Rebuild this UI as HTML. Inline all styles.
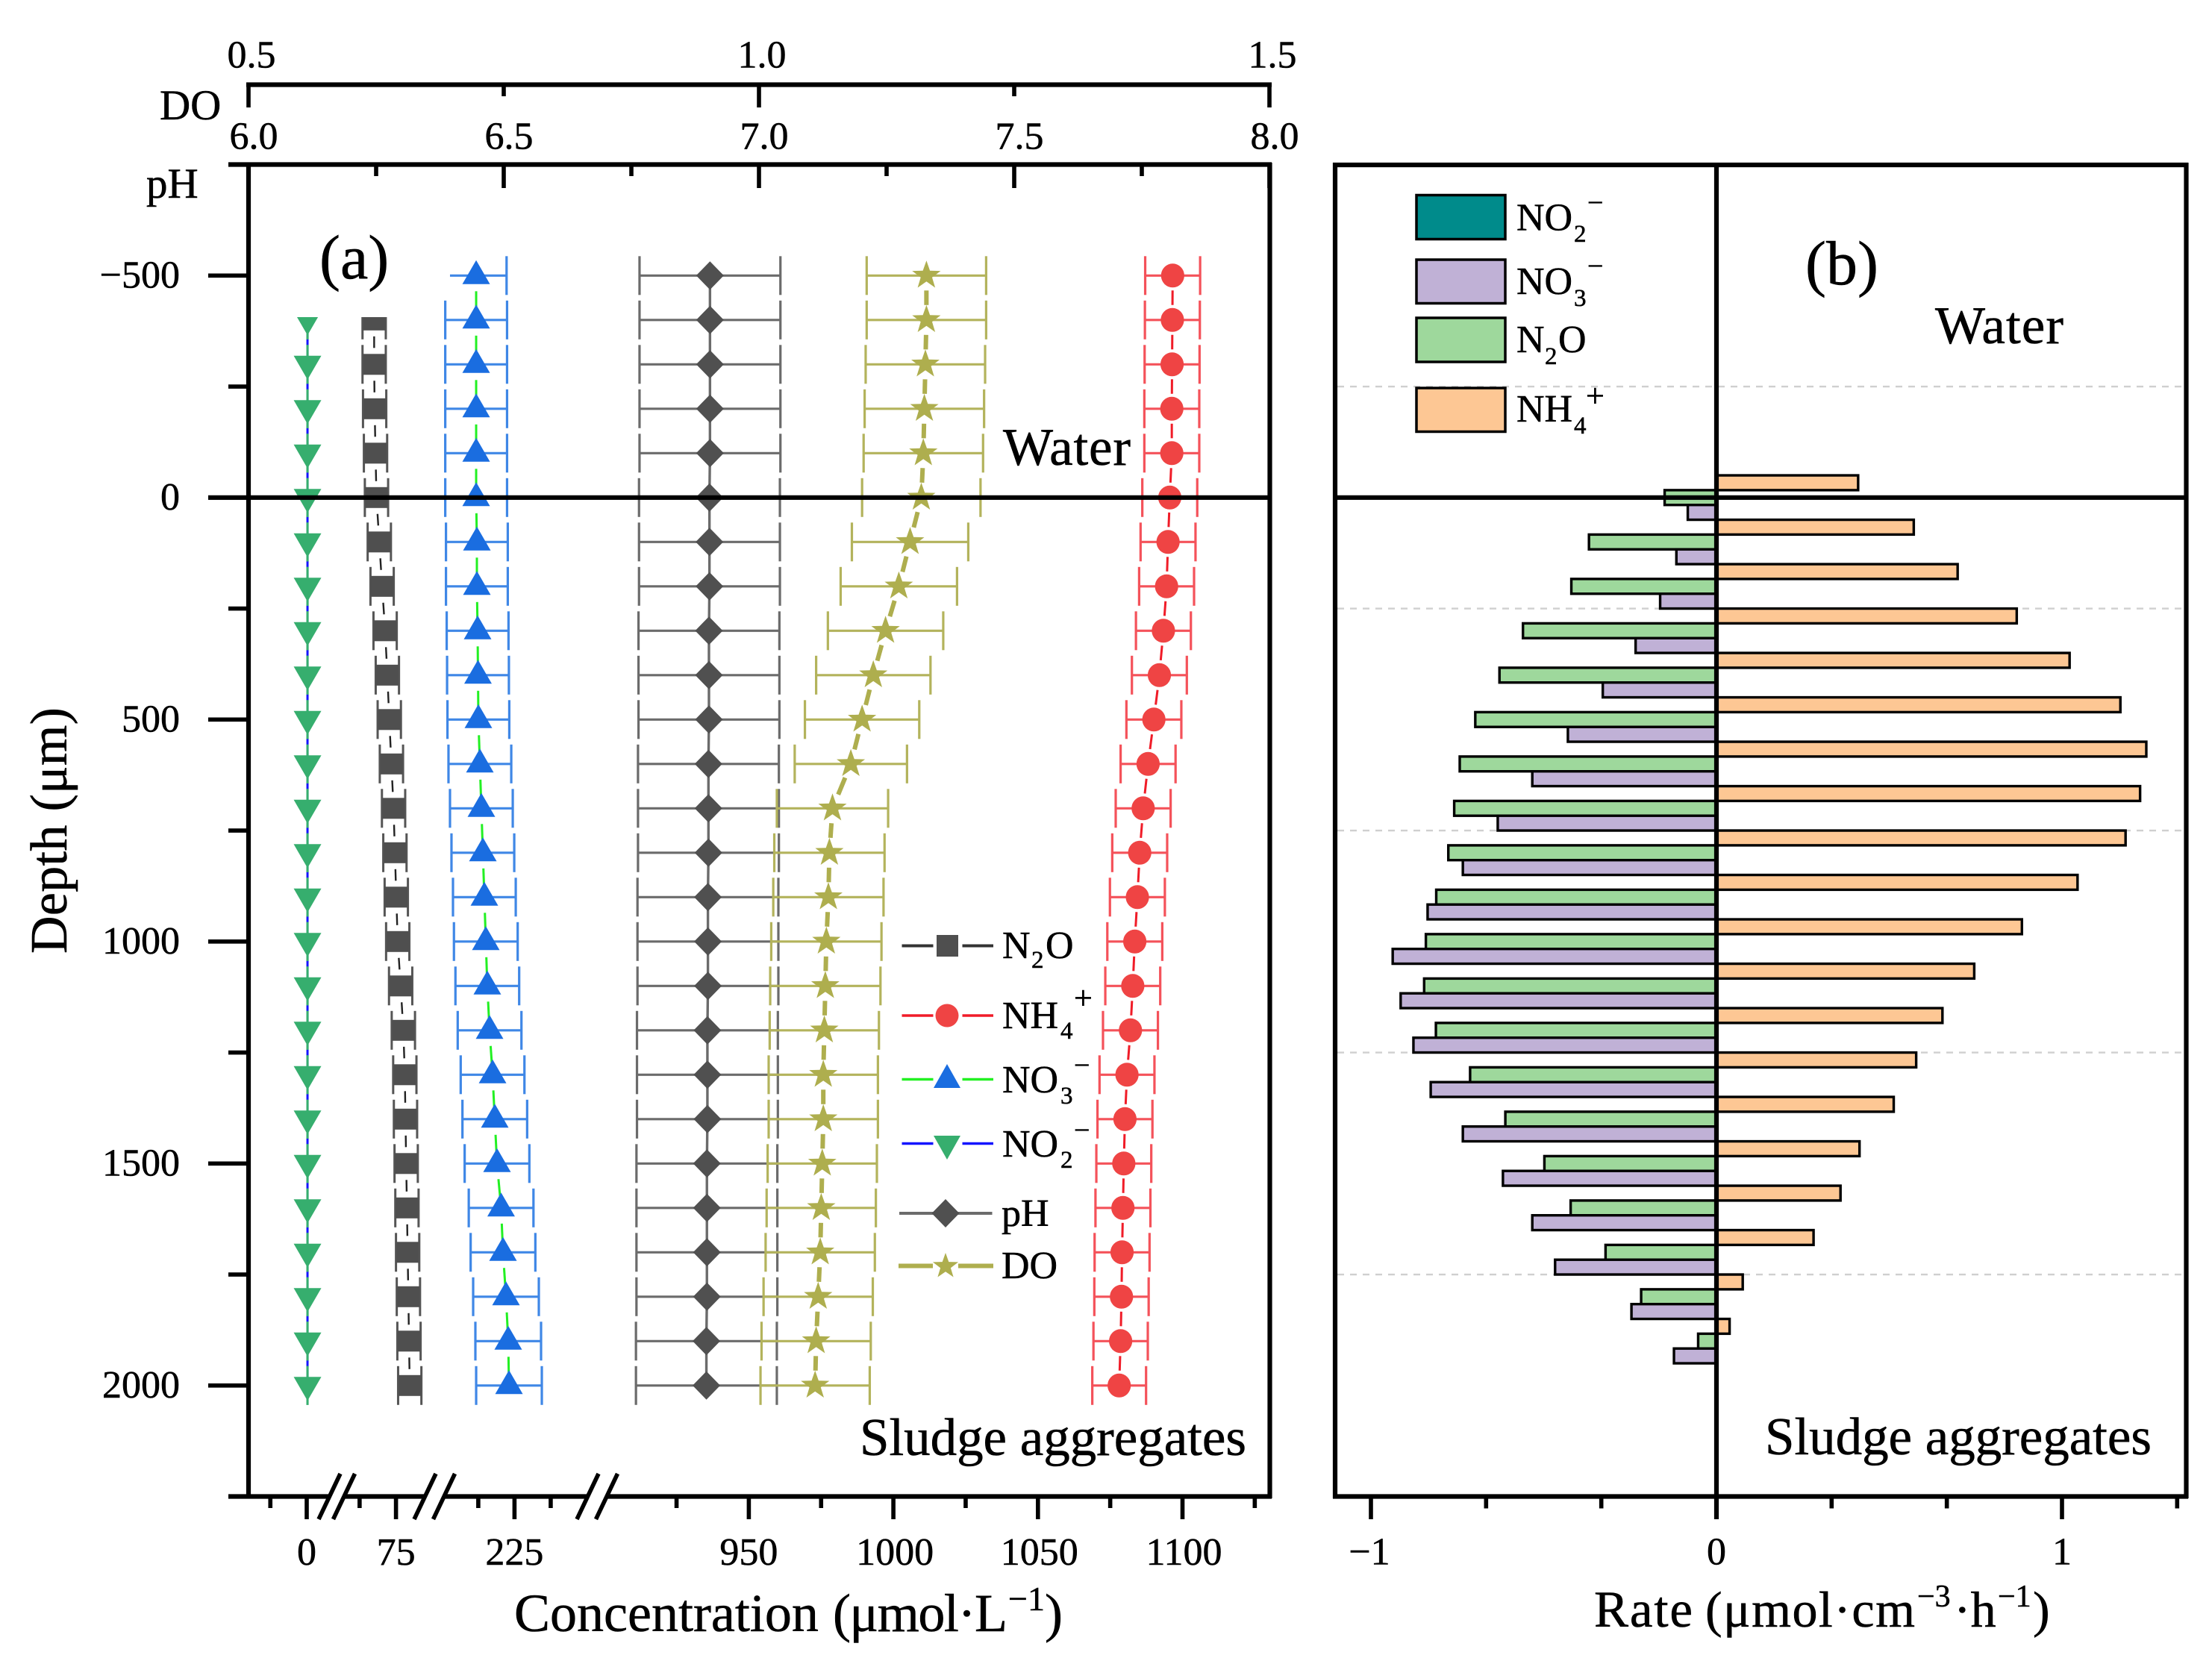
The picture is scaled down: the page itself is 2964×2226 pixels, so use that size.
<!DOCTYPE html>
<html lang="en">
<head>
<meta charset="utf-8">
<title>Depth profiles and rates</title>
<style>
html,body{margin:0;padding:0;background:#fff;}
svg{display:block;}
text{font-family:"Liberation Serif","DejaVu Serif",serif;fill:#000;stroke:#000;stroke-width:0.55px;}
</style>
</head>
<body>
<svg id="chart" xmlns="http://www.w3.org/2000/svg" width="2964" height="2226" viewBox="0 0 2964 2226">
<defs>
<clipPath id="topClip"><rect x="300" y="425" width="400" height="1600"/></clipPath>
</defs>
<rect x="0" y="0" width="2964" height="2226" fill="#fff"/>
<g id="panelB"></g>
<g id="panelA"></g>
<g id="axes"></g>

<text x="214" y="160" font-size="57">DO</text>
<text x="196" y="265" font-size="57">pH</text>
<text x="428" y="373" font-size="84">(a)</text>
<text x="1344" y="623" font-size="71" textLength="171">Water</text>
<text x="1152" y="1950" font-size="71" textLength="518">Sludge aggregates</text>
<text transform="translate(89,1278) rotate(-90)" font-size="70" textLength="330">Depth (μm)</text>

<text x="689" y="2186" font-size="72">Concentration</text>
<text x="1116" y="2186" font-size="72" textLength="234">(μmol·L</text>
<text x="1351" y="2158" font-size="46">−1</text>
<text x="1400" y="2186" font-size="72">)</text>

<text x="2419" y="381" font-size="84">(b)</text>
<text x="2593" y="460" font-size="71" textLength="172">Water</text>
<text x="2365" y="1949" font-size="71" textLength="518">Sludge aggregates</text>
<text x="2136" y="2180" font-size="69" textLength="132">Rate</text>
<text x="2285" y="2180" font-size="68" textLength="281">(μmol·cm</text>
<text x="2569" y="2153" font-size="42">−3</text>
<text x="2618" y="2180" font-size="68">·h</text>
<text x="2677" y="2153" font-size="42">−1</text>
<text x="2724" y="2180" font-size="68">)</text>

<g>
  <g>
    <rect x="1898" y="261.5" width="119" height="59" fill="#008b8b" stroke="#000" stroke-width="3.5"/>
    <text x="2032" y="308.5" font-size="52">NO</text>
    <text x="2109" y="324" font-size="33">2</text>
    <text x="2127" y="284" font-size="38">−</text>
  </g>
  <g>
    <rect x="1898" y="348" width="119" height="58.5" fill="#c0b1d6" stroke="#000" stroke-width="3.5"/>
    <text x="2032" y="394" font-size="52">NO</text>
    <text x="2109" y="410" font-size="33">3</text>
    <text x="2127" y="369" font-size="38">−</text>
  </g>
  <g>
    <rect x="1898" y="426" width="119" height="59" fill="#9ed89c" stroke="#000" stroke-width="3.5"/>
    <text x="2032" y="472" font-size="52">N</text>
    <text x="2070" y="488" font-size="33">2</text>
    <text x="2088" y="472" font-size="52">O</text>
  </g>
  <g>
    <rect x="1898" y="520" width="119" height="58.5" fill="#fdc794" stroke="#000" stroke-width="3.5"/>
    <text x="2032" y="565" font-size="52">NH</text>
    <text x="2109" y="581" font-size="33">4</text>
    <text x="2125" y="545" font-size="44">+</text>
  </g>
</g>

<g>
  <g>
    <path d="M1208.5 1267.5H1250.5M1289.5 1267.5H1331" stroke="#333" stroke-width="4" fill="none"/>
    <rect x="1255" y="1253" width="29" height="29" fill="#4f4f4f"/>
    <text x="1343" y="1284" font-size="52">N</text>
    <text x="1382" y="1297" font-size="33">2</text>
    <text x="1401" y="1284" font-size="52">O</text>
  </g>
  <g>
    <path d="M1208.5 1361H1250.5M1289.5 1361H1331" stroke="#f01c28" stroke-width="3.5" fill="none"/>
    <ellipse cx="1269" cy="1361" rx="15.5" ry="15.5" fill="#ef4444"/>
    <text x="1343" y="1378" font-size="52">NH</text>
    <text x="1421" y="1392" font-size="33">4</text>
    <text x="1439" y="1352" font-size="44">+</text>
  </g>
  <g>
    <path d="M1208.5 1446.5H1250.5M1289.5 1446.5H1331" stroke="#22f022" stroke-width="3.5" fill="none"/>
    <polygon points="1269,1426 1287,1458 1251,1458" fill="#1a6de0"/>
    <text x="1343" y="1464" font-size="52">NO</text>
    <text x="1421" y="1479" font-size="33">3</text>
    <text x="1439" y="1440" font-size="38">−</text>
  </g>
  <g>
    <path d="M1208.5 1532.5H1250.5M1289.5 1532.5H1331" stroke="#1414ff" stroke-width="3.5" fill="none"/>
    <polygon points="1269,1554 1287,1522 1251,1522" fill="#36ae6e"/>
    <text x="1343" y="1550" font-size="52">NO</text>
    <text x="1421" y="1565" font-size="33">2</text>
    <text x="1439" y="1527" font-size="38">−</text>
  </g>
  <g>
    <path d="M1205 1626H1329.5" stroke="#6b6b6b" stroke-width="4" fill="none"/>
    <polygon points="1267,1607 1285.5,1626 1267,1645 1248.5,1626" fill="#505050"/>
    <text x="1342" y="1643" font-size="52">pH</text>
  </g>
  <g>
    <path d="M1204 1696.5H1250M1284 1696.5H1331" stroke="#aeae4e" stroke-width="6" fill="none"/>
    <polygon points="1267,1679 1271.3,1691.1 1284.1,1691.4 1273.9,1699.2 1277.6,1711.5 1267,1704.2 1256.4,1711.5 1260.1,1699.2 1249.9,1691.4 1262.7,1691.1" fill="#aeae4e"/>
    <text x="1342" y="1713" font-size="52">DO</text>
  </g>
</g>

<script>
// ---------- Panel (a) data ----------
const depthsFull = [-500,-400,-300,-200,-100,0,100,200,300,400,500,600,700,800,900,1000,1100,1200,1300,1400,1500,1600,1700,1800,1900,2000];
const depthsClipped = [-400,-300,-200,-100,0,100,200,300,400,500,600,700,800,900,1000,1100,1200,1300,1400,1500,1600,1700,1800,1900,2000];
const no2Values = [0.8,0.8,0.8,0.8,0.8,0.8,0.8,0.8,0.8,0.8,0.8,0.8,0.8,0.8,0.8,0.8,0.8,0.8,0.8,0.8,0.8,0.8,0.8,0.8,0.8];
const n2oValues = [52.5,52.5,53,53.9,54.9,57.8,60.7,63.8,66.1,68.1,70.3,72.5,73.9,75.3,76.8,79.8,82.6,84.1,84.8,85.5,86.3,87.0,87.8,88.4,89.2];
const n2oErrors = [12,12,12,12,12,12,12,12,12,12,12,12,12,12,12,12,12,12,12,12,12,12,12,12,12];
const no3Values = [145.6,145.6,145.6,145.6,145.6,145.6,147.1,147.1,148.6,149.4,150.2,153.3,156.4,159.5,162.6,165.6,168.7,173.4,179.6,184.2,188.8,197.3,201.2,207.4,212.0,213.6];
const no3Errors = [63,64,64,64,64,64,64,64,64,64,64,65,65,65,65,66,66,66,66,67,67,67,67,68,68,68];
const nh4Values = [1096.6,1096.5,1096.4,1096.3,1096.3,1095.6,1095.0,1094.5,1093.4,1092.0,1090.1,1088.1,1086.4,1085.2,1084.4,1083.5,1082.8,1082.0,1080.8,1080.1,1079.7,1079.4,1079.1,1078.9,1078.6,1078.1];
const nh4Errors = [9.5,9.5,9.5,9.5,9.5,9.5,9.5,9.5,9.5,9.5,9.5,9.5,9.5,9.5,9.5,9.5,9.5,9.5,9.5,9.5,9.5,9.5,9.5,9.4,9.4,9.3];
const phValues = [6.904,6.904,6.904,6.904,6.904,6.903,6.903,6.903,6.902,6.902,6.902,6.901,6.901,6.901,6.900,6.900,6.900,6.899,6.899,6.899,6.898,6.898,6.898,6.898,6.897,6.897];
const phErrors = [0.138,0.138,0.138,0.138,0.138,0.138,0.138,0.138,0.138,0.138,0.138,0.138,0.138,0.138,0.138,0.138,0.138,0.138,0.138,0.138,0.138,0.138,0.138,0.138,0.138,0.138];
const doValues = [1.164,1.164,1.163,1.162,1.161,1.159,1.148,1.137,1.124,1.112,1.101,1.090,1.072,1.069,1.068,1.066,1.065,1.064,1.063,1.063,1.062,1.061,1.060,1.058,1.056,1.055];
const doErrors = [0.0585,0.0585,0.0585,0.0585,0.0585,0.058,0.057,0.057,0.0565,0.056,0.056,0.055,0.0545,0.054,0.054,0.054,0.054,0.0535,0.0535,0.0535,0.0535,0.0535,0.0535,0.0535,0.0535,0.0535];

// ---------- Panel (b) data ----------
const rateDepths = [0,100,200,300,400,500,600,700,800,900,1000,1100,1200,1300,1400,1500,1600,1700,1800,1900];
const rateNH4 = [0.410,0.571,0.698,0.869,1.022,1.169,1.244,1.226,1.184,1.045,0.884,0.746,0.654,0.578,0.513,0.414,0.359,0.281,0.076,0.038];
const rateN2O = [-0.150,-0.369,-0.420,-0.560,-0.628,-0.698,-0.743,-0.759,-0.776,-0.811,-0.841,-0.846,-0.812,-0.713,-0.611,-0.498,-0.422,-0.321,-0.218,-0.053];
const rateNO3 = [-0.083,-0.116,-0.163,-0.234,-0.329,-0.430,-0.533,-0.633,-0.734,-0.836,-0.937,-0.914,-0.877,-0.827,-0.734,-0.618,-0.533,-0.467,-0.246,-0.123];

// ---------- Tick data ----------
const depthMajorTicks = [-500,0,500,1000,1500,2000];
const depthMajorLabels = ['−500','0','500','1000','1500','2000'];
const depthMinorTicks = [-750,-250,250,750,1250,1750,2250];
const concMajorTicks = [0,75,225,950,1000,1050,1100];
const concMajorLabels = ['0','75','225','950','1000','1050','1100'];
const concMinorTicks = [-37.5,37.5,150,300,925,975,1025,1075,1125];
const phMajorTicks = [6,6.5,7,7.5,8];
const phMajorLabels = ['6.0','6.5','7.0','7.5','8.0'];
const phMinorTicks = [6.25,6.75,7.25,7.75];
const doMajorTicks = [0.5,1,1.5];
const doMajorLabels = ['0.5','1.0','1.5'];
const doMinorTicks = [0.75,1.25];
const rateMajorTicks = [-1,0,1];
const rateMajorLabels = ['−1','0','1'];
const rateMinorTicks = [-0.6667,-0.3333,0.3333,0.6667,1.3333];
const rateGridDepths = [-250,250,750,1250,1750];
const concBreaks = [[427,466],[555,606],[773,824]];

// ---------- Axis functions ----------
function yScale(d){ return 666.8 + d * 0.595; }
function phX(v){ return 333 + (v - 6) * 684; }
function doX(v){ return 333 + (v - 0.5) * 1368; }
function rateX(v){ return 2300 + v * 463; }
function concK(v){
  if (v < 120) return 1.3;
  if (v < 500) return 0.647;
  return 3.874;
}
function concX(v){
  if (v < 30) return 411 + v * 1.3;
  if (v < 120) return 530.6 + (v - 75) * 1.3;
  if (v < 500) return 689.4 + (v - 225) * 0.647;
  return 1003.4 + (v - 950) * 3.874;
}

const NS = 'http://www.w3.org/2000/svg';
function el(parent, tag, attrs){
  const e = document.createElementNS(NS, tag);
  for (const k in attrs) e.setAttribute(k, attrs[k]);
  parent.appendChild(e);
  return e;
}
function hline(parent, x1, x2, y, color, w){ return el(parent, 'line', {x1:x1, x2:x2, y1:y, y2:y, stroke:color, 'stroke-width':w}); }
function vline(parent, x, y1, y2, color, w){ return el(parent, 'line', {x1:x, x2:x, y1:y1, y2:y2, stroke:color, 'stroke-width':w}); }

const panelA = document.getElementById('panelA');
const panelB = document.getElementById('panelB');
const axes = document.getElementById('axes');

// ---------- Panel (b) marks ----------
rateGridDepths.forEach(function(d){
  const g = hline(panelB, 1792, 2927, yScale(d), '#cfcfcf', 2.4);
  g.setAttribute('stroke-dasharray', '9 8');
  
  
});
const barH = 19.83;
function drawBar(val, d, offset, fill, name){
  const a = rateX(0), b = rateX(val);
  const r = el(panelB, 'rect', {x:Math.min(a,b), y:yScale(d)+offset-barH/2, width:Math.abs(b-a), height:barH, fill:fill, stroke:'#000', 'stroke-width':3.4});
  
  
}
rateDepths.forEach(function(d, i){
  drawBar(rateNH4[i], d, -barH, '#fdc794', 'bar-nh4');
  drawBar(rateN2O[i], d, 0, '#9ed89c', 'bar-n2o');
  drawBar(rateNO3[i], d, barH, '#c0b1d6', 'bar-no3');
});

// ---------- Panel (a) marks ----------
function star(cx, cy, R, r){
  const pts = [];
  for (let i = 0; i < 10; i++){
    const rad = i % 2 ? r : R;
    const t = -Math.PI/2 + i * Math.PI/5;
    pts.push((cx + rad*Math.cos(t)).toFixed(1) + ',' + (cy + rad*Math.sin(t)).toFixed(1));
  }
  return pts.join(' ');
}
function drawMarker(g, shape, x, y, color){
  if (shape === 'square') return el(g, 'rect', {x:x-15, y:y-14, width:30, height:28, fill:color});
  if (shape === 'circle') return el(g, 'ellipse', {cx:x, cy:y, rx:15.6, ry:16, fill:color});
  if (shape === 'up') return el(g, 'polygon', {points:(x)+','+(y-20.5)+' '+(x+18.5)+','+(y+11.5)+' '+(x-18.5)+','+(y+11.5), fill:color});
  if (shape === 'down') return el(g, 'polygon', {points:(x)+','+(y+20.5)+' '+(x+18.5)+','+(y-11.5)+' '+(x-18.5)+','+(y-11.5), fill:color});
  if (shape === 'diamond') return el(g, 'polygon', {points:(x)+','+(y-19)+' '+(x+18.5)+','+y+' '+(x)+','+(y+19)+' '+(x-18.5)+','+y, fill:color});
  return el(g, 'polygon', {points:star(x, y, 20, 8), fill:color});
}
function drawSeries(cfg){
  const g = el(panelA, 'g', {});
  
  
  if (cfg.clip) g.setAttribute('clip-path', 'url(#topClip)');
  const xs = cfg.values.map(cfg.x);
  const ys = cfg.depths.map(yScale);
  // connecting line with a gap around every symbol
  for (let i = 0; i < xs.length - 1; i++){
    const dx = xs[i+1]-xs[i], dy = ys[i+1]-ys[i], len = Math.hypot(dx, dy);
    const a = cfg.gapA / len, b = 1 - cfg.gapB / len;
    const s = el(g, 'line', {x1:xs[i]+dx*a, y1:ys[i]+dy*a, x2:xs[i]+dx*b, y2:ys[i]+dy*b, stroke:cfg.lineColor, 'stroke-width':cfg.lineWidth});
    
    
  }
  // horizontal error bars with caps
  xs.forEach(function(x, i){
    const e = cfg.errors[i] * cfg.k(cfg.values[i]);
    const y = ys[i];
    const noLeftCap = cfg.skipFirstLeftCap && i === 0;
    const left = noLeftCap ? x - e * 0.86 : x - e;
    const bar = hline(g, left, x + e, y, cfg.errColor, cfg.errWidth);
    
    
    if (!noLeftCap){
      const capL = vline(g, x - e, y - 26, y + 26, cfg.errColor, cfg.errWidth);
      
      
    }
    const capR = vline(g, x + e, y - 26, y + 26, cfg.errColor, cfg.errWidth);
    
    
  });
  xs.forEach(function(x, i){
    const m = drawMarker(g, cfg.shape, x, ys[i], cfg.color);
    
    
  });
}
drawSeries({name:'series-ph', depths:depthsFull, values:phValues, errors:phErrors, x:phX, k:function(){return 684;}, shape:'diamond', color:'#505050', lineColor:'#6b6b6b', lineWidth:3.4, gapA:0, gapB:0, errColor:'#6b6b6b', errWidth:3.2});
drawSeries({name:'series-do', depths:depthsFull, values:doValues, errors:doErrors, x:doX, k:function(){return 1368;}, shape:'star', color:'#aeae4e', lineColor:'#aeae4e', lineWidth:6, gapA:20, gapB:20, errColor:'#b3b35c', errWidth:3.2});
drawSeries({name:'series-no2', clip:true, depths:depthsClipped, values:no2Values, errors:no2Values.map(function(){return 0;}), x:concX, k:concK, shape:'down', color:'#36ae6e', lineColor:'#1414ff', lineWidth:3, gapA:0, gapB:0, errColor:'#36ae6e', errWidth:3});
drawSeries({name:'series-n2o', clip:true, depths:depthsClipped, values:n2oValues, errors:n2oErrors, x:concX, k:concK, shape:'square', color:'#4f4f4f', lineColor:'#222', lineWidth:2.4, gapA:22, gapB:22, errColor:'#555', errWidth:3});
drawSeries({name:'series-no3', skipFirstLeftCap:true, depths:depthsFull, values:no3Values, errors:no3Errors, x:concX, k:concK, shape:'up', color:'#1a6de0', lineColor:'#22f022', lineWidth:3, gapA:21, gapB:15, errColor:'#3f87e6', errWidth:3.2});
drawSeries({name:'series-nh4', depths:depthsFull, values:nh4Values, errors:nh4Errors, x:concX, k:concK, shape:'circle', color:'#ef4444', lineColor:'#f01c28', lineWidth:3, gapA:20, gapB:20, errColor:'#f4525a', errWidth:3.2});

// ---------- Axes ----------
const AW = 6.2;
function tickLabel(x, y, str, anchor, name){
  const t = el(axes, 'text', {x:x, y:y, 'font-size':52, 'text-anchor':anchor});
  t.textContent = str;
  
  
}
function axisLine(x1, y1, x2, y2, name){
  const l = el(axes, 'line', {x1:x1, y1:y1, x2:x2, y2:y2, stroke:'#000', 'stroke-width':AW});
  
  
}
function tick(x1, y1, x2, y2, name){
  const l = el(axes, 'line', {x1:x1, y1:y1, x2:x2, y2:y2, stroke:'#000', 'stroke-width':5.6});
  
  
}
// panel a frame
axisLine(333, 218, 333, 2008, 'depth-axis-line');
axisLine(1701.5, 218, 1701.5, 2008, 'right-frame-line');
axisLine(306, 220.5, 1704, 220.5, 'ph-axis-line');
axisLine(306, 2005.5, 1704, 2005.5, 'concentration-axis-line');
axisLine(330, 113.5, 1704, 113.5, 'do-axis-line');
// depth ticks
depthMajorTicks.forEach(function(d, i){
  tick(279, yScale(d), 333, yScale(d), 'depth-major-tick');
  tickLabel(241, yScale(d) + 16, depthMajorLabels[i], 'end', 'depth-tick-label');
});
depthMinorTicks.forEach(function(d){
  tick(306, yScale(d), 333, yScale(d), 'depth-minor-tick');
});
// pH ticks
phMajorTicks.forEach(function(v, i){
  tick(phX(v), 220.5, phX(v), 252, 'ph-major-tick');
  tickLabel(phX(v) + 7, 199.5, phMajorLabels[i], 'middle', 'ph-tick-label');
});
phMinorTicks.forEach(function(v){
  tick(phX(v), 220.5, phX(v), 236, 'ph-minor-tick');
});
// DO ticks
doMajorTicks.forEach(function(v, i){
  tick(doX(v), 113.5, doX(v), 144, 'do-major-tick');
  tickLabel(doX(v) + 4, 90.5, doMajorLabels[i], 'middle', 'do-tick-label');
});
doMinorTicks.forEach(function(v){
  tick(doX(v), 113.5, doX(v), 129, 'do-minor-tick');
});
// concentration ticks
concMajorTicks.forEach(function(v, i){
  tick(concX(v), 2005.5, concX(v), 2036, 'concentration-major-tick');
  tickLabel(concX(v) + (i > 3 ? 2 : 0), 2097, concMajorLabels[i], 'middle', 'concentration-tick-label');
});
concMinorTicks.forEach(function(v){
  tick(concX(v), 2005.5, concX(v), 2021, 'concentration-minor-tick');
});
// axis breaks
concBreaks.forEach(function(b){
  const xa = b[0], xb = b[1];
  const w = (xb - xa) / 2 - 1;
  const gap = el(axes, 'polygon', {points:(xa+15)+',2001 '+(xa+15+w)+',2001 '+(xa+13+w)+',2010 '+(xa+13)+',2010', fill:'#fff'});
  
  
  [0, 1].forEach(function(n){
    const off = n * (w + 1);
    const s = el(axes, 'line', {x1:xa + off + 29, y1:1975, x2:xa + off, y2:2036, stroke:'#000', 'stroke-width':5.6});
    
    
  });
});
// zero line of panel a
axisLine(279, yScale(0), 1701.5, yScale(0), 'water-sludge-boundary-a');

// panel b frame
axisLine(1789, 218, 1789, 2008, 'panel-b-left-frame');
axisLine(2929.5, 218, 2929.5, 2008, 'panel-b-right-frame');
axisLine(1786, 221, 2932, 221, 'panel-b-top-frame');
axisLine(1786, 2005.5, 2932, 2005.5, 'rate-axis-line');
axisLine(1789, yScale(0), 2929.5, yScale(0), 'water-sludge-boundary-b');
axisLine(rateX(0), 221, rateX(0), 2036, 'rate-zero-line');
rateMajorTicks.forEach(function(v, i){
  tick(rateX(v), 2005.5, rateX(v), 2036, 'rate-major-tick');
  tickLabel(rateX(v) + (v < 0 ? -2 : 0), 2096.5, rateMajorLabels[i], 'middle', 'rate-tick-label');
});
rateMinorTicks.forEach(function(v){
  tick(rateX(v), 2005.5, rateX(v), 2021.5, 'rate-minor-tick');
});
</script>
</svg>
</body>
</html>
